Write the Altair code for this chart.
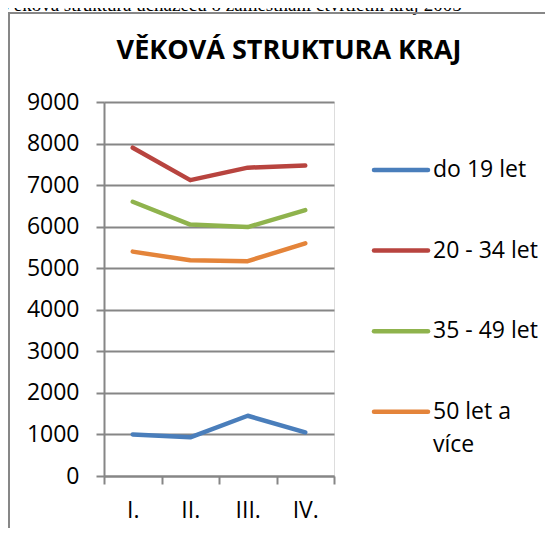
import altair as alt
import pandas as pd

quarters = ["I.", "II.", "III.", "IV."]
series = ["do 19 let", "20 - 34 let", "35 - 49 let", "50 let a více"]
legend_labels = ["do 19 let", "20 - 34 let", "35 - 49 let", "50 let a\nvíce"]
colors = ["#4A7EBB", "#B8443F", "#8FB34D", "#E4843A"]

v_do19 = [1000, 930, 1450, 1050]
v_20_34 = [7900, 7120, 7420, 7470]
v_35_49 = [6600, 6050, 5990, 6400]
v_50 = [5400, 5190, 5170, 5600]

top_text = "Věková struktura uchazečů o zaměstnání čtvrtletní kraj 2005"
chart_title = "VĚKOVÁ STRUKTURA KRAJ"

rows = []
for name, vals in zip(series, [v_do19, v_20_34, v_35_49, v_50]):
    for q, v in zip(quarters, vals):
        rows.append({"kvartal": q, "pocet": v, "serie": name})
df = pd.DataFrame(rows)
leg = pd.DataFrame({"serie": series, "label": legend_labels})

FONT = "Open Sans"
GRID = "#868686"

color = alt.Color("serie:N", scale=alt.Scale(domain=series, range=colors), legend=None)

lines = alt.Chart(df).mark_line(strokeWidth=4.5, strokeCap="round", strokeJoin="round").encode(
    x=alt.X("kvartal:N", sort=quarters, title=None,
            scale=alt.Scale(paddingInner=0, paddingOuter=0),
            axis=alt.Axis(tickBand="extent", labelAngle=0, labelFont=FONT, labelFontSize=23,
                          labelColor="#000000", labelBaseline="alphabetic", labelPadding=33,
                          tickSize=8, tickColor=GRID, tickWidth=2, domainColor=GRID,
                          domainWidth=2, grid=False)),
    y=alt.Y("pocet:Q", title=None, scale=alt.Scale(domain=[0, 9000], nice=False),
            axis=alt.Axis(values=list(range(0, 9001, 1000)), format="d", labelFont=FONT,
                          labelFontSize=23, labelColor="#000000", labelPadding=17, tickSize=8,
                          tickColor=GRID, tickWidth=2, domainColor=GRID, domainWidth=2,
                          gridColor=GRID, gridWidth=2)),
    color=color,
)

leg_y = alt.Y("serie:N", scale=alt.Scale(type="point", domain=series, range=[68, 309.7], padding=0),
              axis=None)

leg_lines = alt.Chart(leg).mark_rule(strokeWidth=4.5, strokeCap="round").encode(
    x=alt.value(270), x2=alt.value(324), y=leg_y, color=color,
)
leg_text = alt.Chart(leg).mark_text(align="left", baseline="alphabetic", dy=7, lineBreak="\n",
                                    lineHeight=33.5, font=FONT, fontSize=23, color="#000000").encode(
    x=alt.value(329), y=leg_y, text="label:N",
)

title_layer = alt.Chart(pd.DataFrame({"t": [chart_title]})).mark_text(
    font=FONT, fontSize=27, fontWeight="bold", align="center", baseline="alphabetic", color="#000000"
).encode(x=alt.value(185), y=alt.value(-43), text="t:N")

top_layer = alt.Chart(pd.DataFrame({"t": [top_text]})).mark_text(
    font="Liberation Serif", fontSize=19, align="left", baseline="alphabetic", color="#000000"
).encode(x=alt.value(-104), y=alt.value(-91), text="t:N")

border_left = alt.Chart(pd.DataFrame({"a": [0]})).mark_rule(color="#878787", strokeWidth=2).encode(
    x=alt.value(-95), y=alt.value(-89), y2=alt.value(440))
border_top = alt.Chart(pd.DataFrame({"a": [0]})).mark_rule(color="#878787", strokeWidth=2).encode(
    x=alt.value(-96), x2=alt.value(460), y=alt.value(-89))

chart = alt.layer(lines, leg_lines, leg_text, title_layer, top_layer, border_left, border_top).resolve_scale(
    y="independent"
).properties(
    width=230, height=374,
    autosize=alt.AutoSizeParams(type="none"),
    padding={"left": 96, "top": 94, "right": 211, "bottom": 52},
).configure_view(stroke=None).configure(background="#ffffff")

chart.save("out.html", embed_options={"renderer": "svg", "actions": False})
